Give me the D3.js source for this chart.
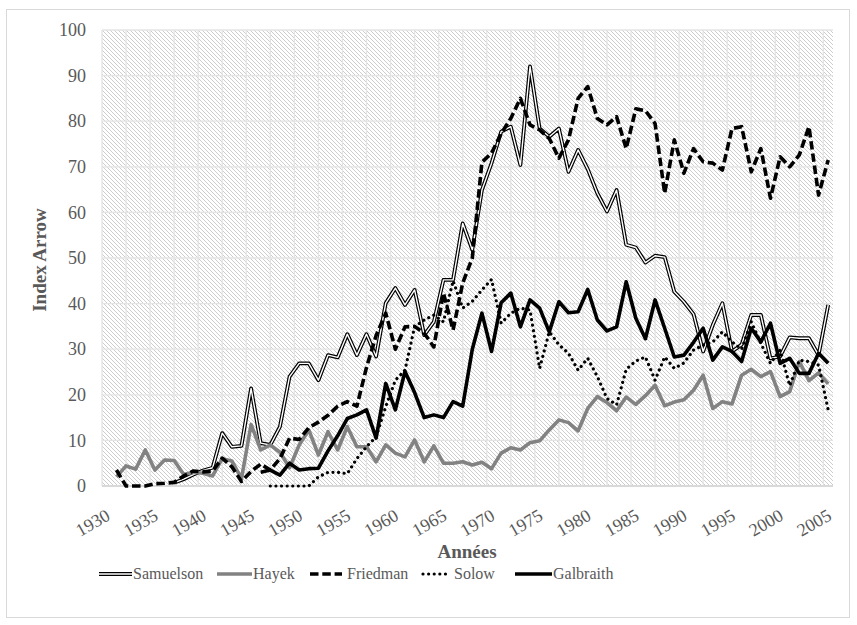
<!DOCTYPE html>
<html><head><meta charset="utf-8">
<script src="https://cdn.jsdelivr.net/npm/d3@7"></script>
<style>
html,body{margin:0;padding:0;background:#fff;}
svg{display:block;}
svg text{font-family:"Liberation Serif","Tinos","DejaVu Serif","Noto Serif","Times New Roman",serif !important;}
</style></head><body>
<svg id="c" width="857" height="625"></svg>
<script>
const years = d3.range(1930, 2006);
const yTicks = [0,10,20,30,40,50,60,70,80,90,100];
const xTickYears = [1930,1935,1940,1945,1950,1955,1960,1965,1970,1975,1980,1985,1990,1995,2000,2005];
const N = null;
const samuelson = [N,N,N,N,N,N,N,0.7,1.5,2.5,3.4,4,11.6,8.6,8.8,21.4,9.4,9,13,24,
  26.9,26.9,23.2,28.7,28.2,33.3,28.7,33.3,28.4,40.1,43.4,39.7,43,33.1,36,45.2,45.2,57.6,51.8,64.9,
  70.8,77.7,78.8,70.4,92,78.4,76.6,78.4,68.9,73.7,69.5,64.2,60.2,64.9,52.9,52.3,49,50.5,50.2,42.6,
  40.4,37.7,29.5,35.3,40.1,29.5,31,37.5,37.5,28,28.4,32.6,32.4,32.4,28.7,39.7];
const hayek = [N,2,4.4,3.7,7.9,3.5,5.7,5.6,2.5,3,2.8,2.2,6,5.5,1.6,13.5,7.9,9,7.4,4,
  9,12.3,6.8,11.9,7.9,13,8.6,8.6,5.3,9,7.2,6.4,10.1,5.3,8.8,5,5,5.3,4.6,5.2,
  3.8,7.2,8.4,7.9,9.5,9.9,12.3,14.5,13.9,12.1,17,19.6,18.3,16.5,19.5,17.9,19.8,22.1,17.6,18.4,
  18.9,21,24.3,17,18.5,18,24.3,25.6,24,25.1,19.6,20.7,27.3,23.1,24.8,22.4];
const friedman = [N,3.5,0,0,0,0.5,0.6,0.8,2.2,3.3,3.1,3.3,6.1,4.2,1,3.2,4.8,3.5,6,10.5,
  10.2,12.8,14,15.5,17.5,18.5,17.5,26,33,37.9,30,34.9,35,33.5,30.5,42.3,34.2,44.5,50,71,
  73,77.3,80.6,85,79.2,78.1,76.2,71.9,75.9,85,87.6,80.6,79.2,81,74,82.7,82.3,79.5,64.2,75.9,
  68.6,74,71.1,70.8,69.3,78.4,78.8,68.9,74,63.1,72.2,70,72.6,78.8,63.8,71.5];
const solow = [N,N,N,N,N,N,N,N,N,N,N,N,N,N,N,N,N,0,0,0,
  0,0,2,3,3,2.7,6,8.6,10.8,17.4,23.2,25.4,34.9,36.4,37.5,36,45,39,40.5,43,
  45.3,35.7,37.9,39,38.6,25.8,33.8,31,29.1,25.4,28,24,19.2,17.8,25.6,27.4,28.3,23.2,28.3,25.8,
  27,29.8,30.9,31.6,33.8,31.6,30,36,31.3,26.9,29.8,22,27.6,27.3,26.5,16.7];
const galbraith = [N,N,N,N,N,N,N,N,N,N,N,N,N,N,N,N,3,3.5,2.4,5,
  3.5,3.8,3.9,7.7,11,14.8,15.6,16.7,10.5,22.5,16.7,25.1,20.5,15,15.6,15,18.5,17.5,30,37.9,
  29.5,40.2,42.3,34.9,40.8,39,33.8,40.4,38,38.2,43.1,36.4,34,34.9,44.8,36.8,32.3,40.8,34.6,28.3,
  28.7,31.5,34.6,27.6,30.5,29.5,27.3,34.6,31.6,35.7,26.9,28,24.7,24.7,29.1,26.9];
const seriesNames = ["Samuelson","Hayek","Friedman","Solow","Galbraith"];
const seriesValues = [samuelson,hayek,friedman,solow,galbraith];

const FONT = '"Liberation Serif","Tinos","DejaVu Serif","Noto Serif","Times New Roman",serif';
const svg = d3.select("#c").attr("font-family", FONT);
const plot = {left:102, right:833, top:30, bottom:486};
const textCol = "#595959";

// chart border
svg.append("rect").attr("x",6.5).attr("y",9.5).attr("width",843).attr("height",608)
  .attr("fill","#fff").attr("stroke","#d9d9d9").attr("stroke-width",1);

const x = d3.scalePoint().domain(years).range([plot.left, plot.right]).padding(0.5);
const y = d3.scaleLinear().domain([0,100]).range([plot.bottom, plot.top]);

// hatch pattern
const defs = svg.append("defs");
const pat = defs.append("pattern").attr("id","hatch").attr("patternUnits","userSpaceOnUse")
  .attr("width",4).attr("height",4);
pat.append("rect").attr("width",4).attr("height",4).attr("fill","#ffffff");
[0,1,2,3].forEach(i=>pat.append("rect").attr("x",i).attr("y",i).attr("width",1).attr("height",1).attr("fill","#cdcdcd"));

svg.append("rect").attr("x",plot.left).attr("y",plot.top)
  .attr("width",plot.right-plot.left).attr("height",plot.bottom-plot.top)
  .attr("fill","url(#hatch)");

// vertical gridlines every 2.5 categories
const step = x.step();
const vGrid = d3.range(0, 31).map(k => plot.left + k*2.5*step).filter(v => v <= plot.right+0.5);
svg.append("g").selectAll("line").data(vGrid).join("line")
  .attr("x1",d=>d).attr("x2",d=>d).attr("y1",plot.top).attr("y2",plot.bottom)
  .attr("stroke","#e4e4e4").attr("stroke-width",1.3);

// horizontal gridlines
svg.append("g").selectAll("line").data(yTicks.filter(t=>t>0)).join("line")
  .attr("x1",plot.left).attr("x2",plot.right).attr("y1",d=>y(d)).attr("y2",d=>y(d))
  .attr("stroke","#e4e4e4").attr("stroke-width",1.3);

// y axis
const yAxis = svg.append("g").attr("transform",`translate(${plot.left},0)`)
  .call(d3.axisLeft(y).tickValues(yTicks).tickSize(0).tickPadding(16));
yAxis.attr("font-family", FONT);
yAxis.select(".domain").remove();
yAxis.selectAll("text").attr("font-size",18).attr("fill",textCol);

// x axis line
svg.append("line").attr("x1",plot.left).attr("x2",plot.right).attr("y1",plot.bottom).attr("y2",plot.bottom)
  .attr("stroke","#d9d9d9").attr("stroke-width",2);

// x tick labels
const xAxis = svg.append("g").attr("transform",`translate(0,${plot.bottom})`)
  .call(d3.axisBottom(x).tickValues(xTickYears).tickSize(0));
xAxis.attr("font-family", FONT);
xAxis.select(".domain").remove();
xAxis.selectAll(".tick text")
  .attr("font-size",18).attr("fill",textCol)
  .attr("text-anchor","end").attr("dy",null).attr("y",null)
  .attr("transform","translate(4,33) rotate(-30)");

// axis titles
svg.append("text").attr("transform","translate(46,260) rotate(-90)")
  .attr("text-anchor","middle").attr("font-weight","bold").attr("font-size",19)
  .attr("fill",textCol).text("Index Arrow");
svg.append("text").attr("x",467).attr("y",558)
  .attr("text-anchor","middle").attr("font-weight","bold").attr("font-size",19)
  .attr("fill",textCol).text("Années");

// line styles
const styles = {
  Samuelson:{layers:[{c:"#000",w:3.8},{c:"#fff",w:1.4}]},
  Hayek:{layers:[{c:"#828282",w:3.6}]},
  Friedman:{layers:[{c:"#000",w:3.6,dash:"8.5,3.8"}]},
  Solow:{layers:[{c:"#000",w:3.2,dash:"0.01,5.6",cap:"round"}]},
  Galbraith:{layers:[{c:"#000",w:3.6}]}
};

const line = d3.line().defined(d=>d.v!==null).x(d=>x(d.yr)).y(d=>y(d.v));
const lines = svg.append("g");
seriesNames.forEach((name,i)=>{
  const data = years.map((yr,j)=>({yr, v: seriesValues[i][j]}));
  styles[name].layers.forEach(l=>{
    lines.append("path").datum(data).attr("d",line)
      .attr("fill","none").attr("stroke",l.c).attr("stroke-width",l.w)
      .attr("stroke-linejoin","round").attr("stroke-linecap",l.cap||"butt")
      .attr("stroke-dasharray",l.dash||null);
  });
});

// legend
const legendItems = [
  {name:"Samuelson", x0:99, x1:132, tx:133},
  {name:"Hayek", x0:217, x1:252, tx:253},
  {name:"Friedman", x0:310, x1:342, tx:347},
  {name:"Solow", x0:423, x1:450, tx:454},
  {name:"Galbraith", x0:515, x1:552, tx:553}
];
const ly = 574;
const lg = svg.append("g");
legendItems.forEach(it=>{
  styles[it.name].layers.forEach(l=>{
    lg.append("line").attr("x1",it.x0).attr("x2",it.x1).attr("y1",ly).attr("y2",ly)
      .attr("stroke",l.c).attr("stroke-width",l.w).attr("stroke-linecap",l.cap||"butt")
      .attr("stroke-dasharray",l.dash||null);
  });
  lg.append("text").attr("x",it.tx).attr("y",ly+5)
    .attr("font-size",16).attr("fill",textCol).text(it.name);
});
</script>
</body></html>
